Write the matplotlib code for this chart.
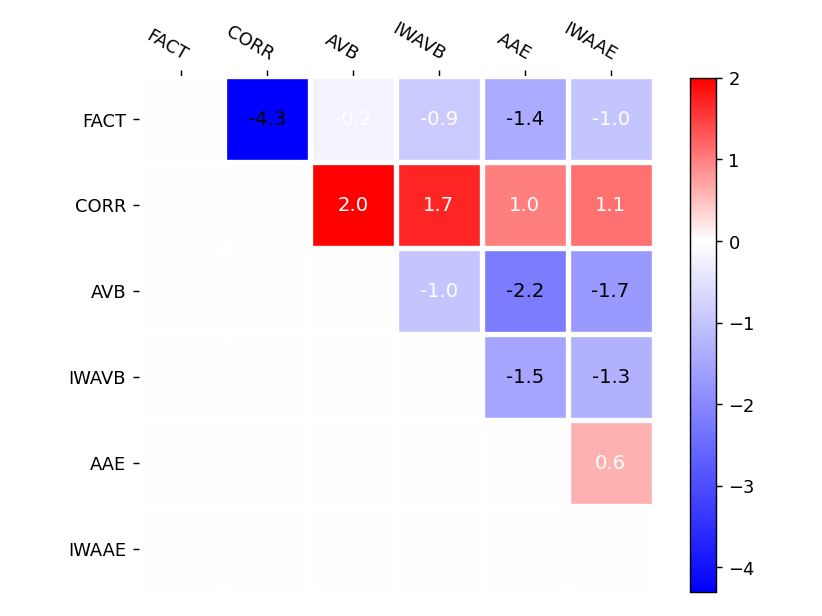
import matplotlib.pyplot as plt
import numpy as np
from matplotlib.colors import LinearSegmentedColormap, Normalize

labels = ["FACT", "CORR", "AVB", "IWAVB", "AAE", "IWAAE"]

# upper triangle values, row by row (lower triangle and diagonal are 0)
row_fact = [0.0, -4.3, -0.2, -0.9, -1.4, -1.0]
row_corr = [0.0, 0.0, 2.0, 1.7, 1.0, 1.1]
row_avb = [0.0, 0.0, 0.0, -1.0, -2.2, -1.7]
row_iwavb = [0.0, 0.0, 0.0, 0.0, -1.5, -1.3]
row_aae = [0.0, 0.0, 0.0, 0.0, 0.0, 0.6]
row_iwaae = [0.0, 0.0, 0.0, 0.0, 0.0, 0.0]

data = np.array([row_fact, row_corr, row_avb, row_iwavb, row_aae, row_iwaae])

vmin, vmax = data.min(), data.max()
mid = (0 - vmin) / (vmax - vmin)
cmap = LinearSegmentedColormap.from_list(
    "bwr_shift", [(0.0, (0, 0, 1)), (mid, (1, 1, 1)), (1.0, (1, 0, 0))])

fig = plt.figure(figsize=(6.4, 4.8), dpi=128.44)
ax = fig.add_axes([0.1685, 0.0398, 0.6265, 0.836])
cax = fig.add_axes([0.8394, 0.039, 0.0316, 0.834])

im = ax.imshow(data, cmap=cmap, norm=Normalize(vmin=vmin, vmax=vmax), aspect="auto")
cbar = fig.colorbar(im, cax=cax)

ax.set_xticks(np.arange(len(labels)))
ax.set_yticks(np.arange(len(labels)))
ax.set_xticklabels(labels)
ax.set_yticklabels(labels)
ax.tick_params(top=True, bottom=False, labeltop=True, labelbottom=False)
plt.setp(ax.get_xticklabels(), rotation=-30, ha="right", rotation_mode="anchor")

for s in ax.spines.values():
    s.set_visible(False)
ax.set_xticks(np.arange(len(labels) + 1) - .5, minor=True)
ax.set_yticks(np.arange(len(labels) + 1) - .5, minor=True)
ax.grid(which="minor", color="w", linestyle="-", linewidth=3)
ax.tick_params(which="minor", bottom=False, left=False, top=False)

# annotate cells
for i in range(data.shape[0]):
    for j in range(data.shape[1]):
        v = data[i, j]
        c = "black" if v < -1.2 else "white"
        ax.text(j, i, f"{v:.1f}", ha="center", va="center", color=c, fontsize=11)

fig.savefig("out.png", dpi=128.44)
